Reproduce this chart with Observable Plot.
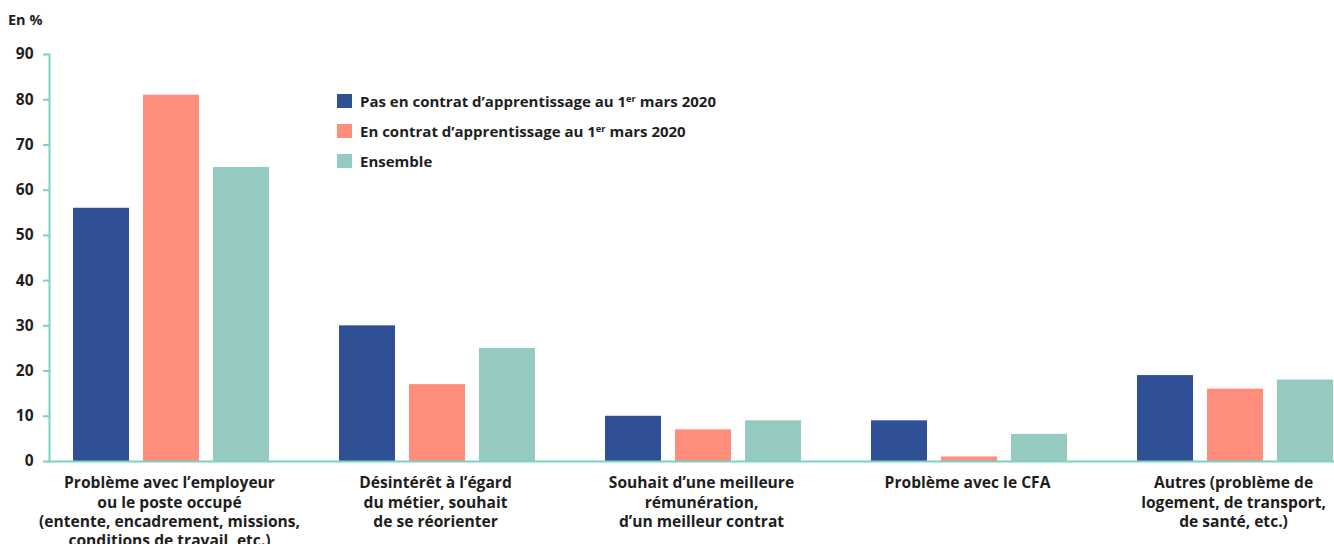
<!DOCTYPE html>
<html>
<head>
<meta charset="utf-8">
<script src="https://cdn.jsdelivr.net/npm/d3@7"></script>
<script src="https://cdn.jsdelivr.net/npm/@observablehq/plot@0.6"></script>
<style>
  html, body { margin: 0; padding: 0; background: #fff; overflow: hidden; }
  body { font-family: "Open Sans", sans-serif; color: #1e1e1e; }
  #wrap { position: relative; width: 1334px; height: 544px; }
  #unit { position: absolute; left: 8px; top: 10px; font-size: 14.5px; font-weight: 700; }
  #legend { position: absolute; left: 337px; top: 86px; font-size: 15px; font-weight: 700; }
  #legend .row { display: flex; align-items: center; height: 30px; }
  #legend .sw { width: 15px; height: 14px; margin-right: 8px; }
  #legend sup { font-size: 0.62em; vertical-align: 0.55em; line-height: 0; }
  svg { overflow: visible; }
</style>
</head>
<body>
<div id="wrap">
  <div id="chart"></div>
  <div id="unit">En %</div>
  <div id="legend"></div>
</div>
<script>
const categories = [
  "Problème avec l’employeur\nou le poste occupé\n(entente, encadrement, missions,\nconditions de travail, etc.)",
  "Désintérêt à l’égard\ndu métier, souhait\nde se réorienter",
  "Souhait d’une meilleure\nrémunération,\nd’un meilleur contrat",
  "Problème avec le CFA",
  "Autres (problème de\nlogement, de transport,\nde santé, etc.)"
];
const series = ["Pas en contrat", "En contrat", "Ensemble"];
const seriesLabels = [
  "Pas en contrat d’apprentissage au 1<sup>er</sup> mars 2020",
  "En contrat d’apprentissage au 1<sup>er</sup> mars 2020",
  "Ensemble"
];
const valuesPasEnContrat = [56, 30, 10, 9, 19];
const valuesEnContrat = [81, 17, 7, 1, 16];
const valuesEnsemble = [65, 25, 9, 6, 18];
const colors = ["#2f5094", "#ff8d7c", "#94cac0"];
const yTicks = [0, 10, 20, 30, 40, 50, 60, 70, 80, 90];

const seriesValues = [valuesPasEnContrat, valuesEnContrat, valuesEnsemble];
const rows = categories.flatMap((c, i) =>
  series.map((s, j) => ({category: c, series: s, value: seriesValues[j][i]}))
);

const teal = "#78d3c4";

const chart = Plot.plot({
  width: 1334,
  height: 544,
  marginTop: 54,
  marginBottom: 83,
  marginLeft: 48,
  marginRight: 0,
  style: {fontFamily: "Open Sans, sans-serif", color: "#1e1e1e", background: "transparent", overflow: "visible"},
  fx: {domain: categories, range: [48, 1380], padding: 0, label: null},
  x: {domain: series, axis: null, paddingInner: 0.206, paddingOuter: 0.4925, align: 0.346},
  y: {domain: [0, 90], axis: null},
  color: {domain: series, range: colors},
  marks: [
    Plot.barY(rows, {fx: "category", x: "series", y: "value", fill: "series"}),
    Plot.ruleY([0], {stroke: teal, strokeWidth: 2}),
    Plot.frame({anchor: "left", facetAnchor: "left", stroke: teal, strokeWidth: 2}),
    Plot.axisY({ticks: yTicks, tickSize: 6, tickPadding: 10, stroke: teal, strokeWidth: 2, label: null,
      fontSize: 15.5, fontWeight: 700, fill: "#1e1e1e"}),
    Plot.axisFx({anchor: "bottom", tickSize: 0, tickPadding: 13, label: null, lineHeight: 1.24, dx: -13,
      fontSize: 15.6, fontWeight: 700, fill: "#1e1e1e"})
  ]
});
document.getElementById("chart").appendChild(chart);

const legend = document.getElementById("legend");
seriesLabels.forEach((lab, j) => {
  const row = document.createElement("div");
  row.className = "row";
  row.innerHTML = `<span class="sw" style="background:${colors[j]}"></span><span>${lab}</span>`;
  legend.appendChild(row);
});
</script>
</body>
</html>
